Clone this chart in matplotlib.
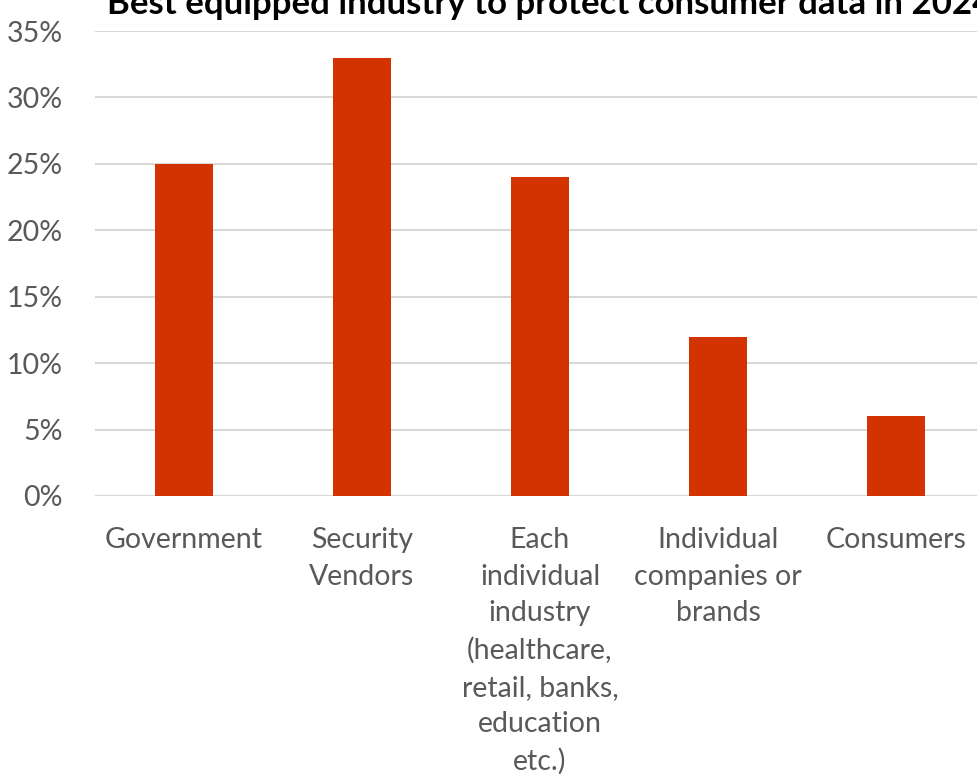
import matplotlib
matplotlib.use('Agg')
import matplotlib.pyplot as plt
from matplotlib.ticker import FuncFormatter

categories = ['Government', 'Security\nVendors',
              'Each\nindividual\nindustry\n(healthcare,\nretail, banks,\neducation\netc.)',
              'Individual\ncompanies or\nbrands', 'Consumers']
shares = [25, 33, 24, 12, 6]
yticks = [0, 5, 10, 15, 20, 25, 30, 35]

plt.rcParams['font.family'] = ['Lato', 'DejaVu Sans']

W, H = 978, 781
fig = plt.figure(figsize=(W / 100, H / 100), dpi=100)
# axes run a little past the right edge, so the last gridline gets cut
left, right, bottom, top = 95, 985, 496, 31
ax = fig.add_axes([left / W, 1 - bottom / H, (right - left) / W, (bottom - top) / H])

x = range(len(categories))
ax.bar(x, shares, width=0.326, color='#D33300', zorder=3)

ax.set_xlim(-0.5, len(categories) - 0.5)
ax.set_ylim(0, 35)
ax.set_yticks(yticks)
ax.yaxis.set_major_formatter(FuncFormatter(lambda v, _: f'{v:.0f}%'))
ax.grid(axis='y', color='#D9D9D9', linewidth=1.5, zorder=0)
ax.set_axisbelow(True)
for s in ax.spines.values():
    s.set_visible(False)
ax.tick_params(axis='both', length=0, colors='#595959', labelsize=20.5)
ax.tick_params(axis='y', pad=23)
ax.tick_params(axis='x', pad=22.5)
ax.set_xticks(list(x))
ax.set_xticklabels(categories, linespacing=1.5, va='top')

fig.text(107 / W, 1 - 14 / H, 'Best equipped industry to protect consumer data in 2024',
         fontsize=25, fontweight='bold', color='black', ha='left', va='baseline')

fig.savefig('out.png', dpi=100)
